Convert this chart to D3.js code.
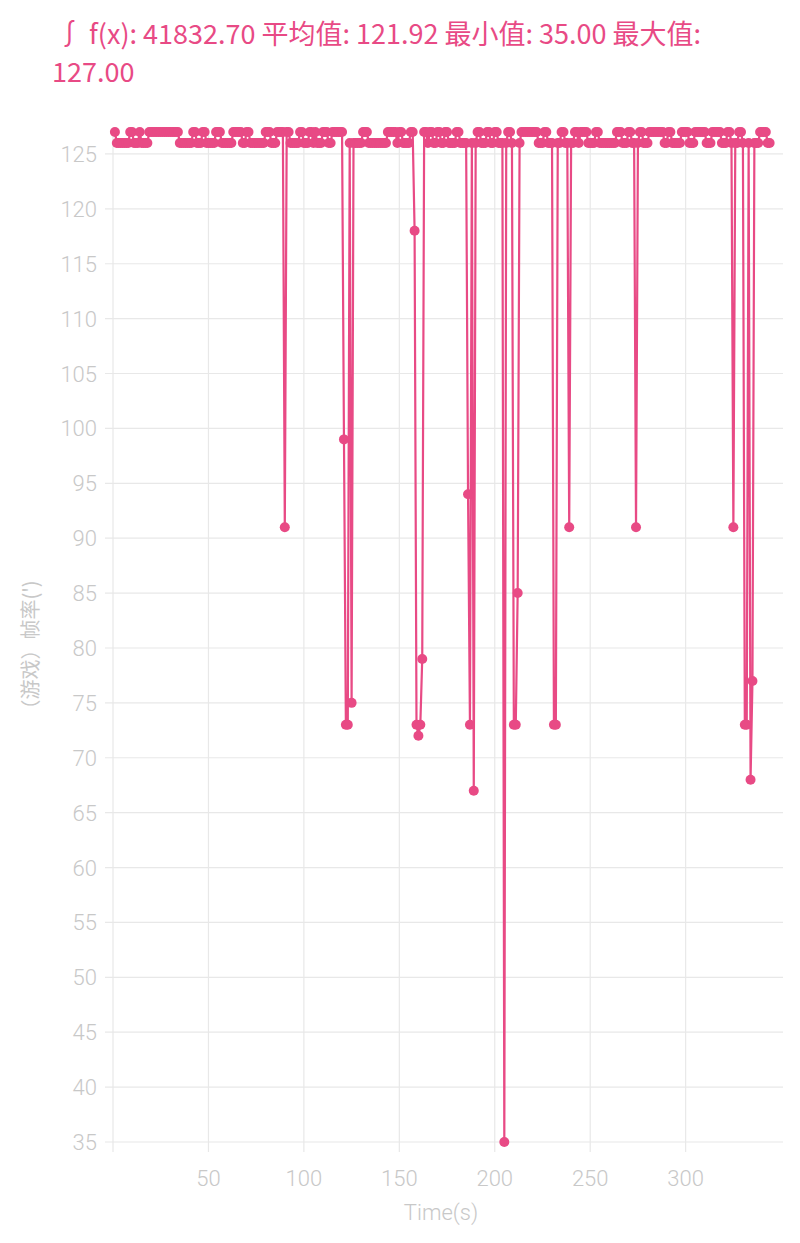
<!DOCTYPE html>
<html>
<head>
<meta charset="utf-8">
<script src="https://cdn.jsdelivr.net/npm/d3@7"></script>
<style>
  body { margin: 0; background: #fff; font-family: "Noto Sans CJK SC", "Noto Sans", sans-serif; }
</style>
</head>
<body>
<script>
// 数据
var titleLines = ["∫ f(x): 41832.70 平均值: 121.92 最小值: 35.00 最大值:", "127.00"];
var yTicks = [35, 40, 45, 50, 55, 60, 65, 70, 75, 80, 85, 90, 95, 100, 105, 110, 115, 120, 125];
var xTicks = [50, 100, 150, 200, 250, 300];
var lastSecond = 344;
// 127 的秒数 (其他默认 126)
var high127 = [1, 9, 10, 14, 19, 20, 21, 22, 23, 24, 25, 26, 27, 28, 29, 30, 31, 32, 33, 34, 42, 43, 47, 48, 54, 55, 56, 63, 64, 65, 66, 67, 70, 71, 80, 81, 82, 86, 87, 88, 89, 91, 92,
  98, 99, 103, 104, 106, 110, 111, 112, 115, 116, 117, 118, 119, 120, 131, 132, 133, 144, 145, 146, 147, 148, 150, 151, 156, 157,
  163, 164, 166, 167, 170, 171, 174, 175, 180, 181, 191, 192, 196, 197, 200, 201, 207, 208, 214, 215, 216, 217, 218, 219, 220, 221, 222,
  226, 227, 235, 236, 242, 243, 245, 246, 247, 248, 253, 254, 264, 265, 266, 270, 271, 276, 277, 281, 282, 283, 284, 285, 286, 287, 288,
  291, 292, 298, 299, 300, 301, 305, 306, 307, 308, 309, 310, 314, 315, 316, 317, 318, 322, 323, 328, 329, 339, 340, 341, 342];
// 掉帧点 [秒, 帧率]
var dips = [[90, 91], [121, 99], [122, 73], [123, 73], [125, 75],
  [158, 118], [159, 73], [160, 72], [161, 73], [162, 79],
  [186, 94], [187, 73], [189, 67], [205, 35],
  [210, 73], [211, 73], [212, 85], [231, 73], [232, 73], [239, 91],
  [274, 91], [325, 91], [331, 73], [332, 73], [334, 68], [335, 77]];

var data = [];
for (var s = 1; s <= lastSecond; s++) {
  data.push({ t: s, v: high127.indexOf(s) >= 0 ? 127 : 126 });
}
dips.forEach(function (d) {
  var p = data.find(function (e) { return e.t === d[0]; });
  p.v = d[1];
});

var width = 800, height = 1243;
var pink = "#e84a85", grid = "#e8e8e8", tickColor = "#c8c8c8";

var x = d3.scaleLinear().domain([0, 351]).range([113, 783]);
var y = d3.scaleLinear().domain([35, 127]).range([1142, 132]);

var svg = d3.select("body").append("svg").attr("width", width).attr("height", height);

svg.selectAll("text.title").data(titleLines).enter().append("text")
  .attr("class", "title")
  .attr("x", function (d, i) { return i === 0 ? 56 : 52; })
  .attr("y", function (d, i) { return 44 + i * 38; })
  .attr("fill", pink)
  .attr("font-size", 27)
  .text(function (d) { return d; });

// y 网格
svg.append("g").selectAll("line").data(yTicks).enter().append("line")
  .attr("x1", 105).attr("x2", 783)
  .attr("y1", function (d) { return y(d); }).attr("y2", function (d) { return y(d); })
  .attr("stroke", grid).attr("stroke-width", 1.2);
svg.append("g").selectAll("text").data(yTicks).enter().append("text")
  .attr("x", 97).attr("y", function (d) { return y(d) + 8; })
  .attr("text-anchor", "end").attr("fill", tickColor).attr("font-size", 22)
  .attr("font-family", "Roboto, sans-serif").attr("font-weight", 300)
  .text(function (d) { return d; });

// x 网格
svg.append("g").selectAll("line").data([0].concat(xTicks)).enter().append("line")
  .attr("x1", function (d) { return x(d); }).attr("x2", function (d) { return x(d); })
  .attr("y1", 128).attr("y2", 1152)
  .attr("stroke", grid).attr("stroke-width", 1.2);
svg.append("g").selectAll("text").data(xTicks).enter().append("text")
  .attr("x", function (d) { return x(d); }).attr("y", 1186)
  .attr("text-anchor", "middle").attr("fill", tickColor).attr("font-size", 22)
  .attr("font-family", "Roboto, sans-serif").attr("font-weight", 300)
  .text(function (d) { return d; });

svg.append("text").attr("x", 441).attr("y", 1220).attr("text-anchor", "middle")
  .attr("fill", tickColor).attr("font-size", 22).attr("font-family", "Roboto, sans-serif")
  .attr("font-weight", 300)
  .text("Time(s)");
svg.append("text").attr("transform", "translate(38,650) rotate(-90)")
  .attr("text-anchor", "middle").attr("fill", tickColor).attr("font-size", 20)
  .text("（游戏）帧率(')");

var line = d3.line().x(function (d) { return x(d.t); }).y(function (d) { return y(d.v); });
svg.append("path").datum(data).attr("d", line)
  .attr("fill", "none").attr("stroke", pink).attr("stroke-width", 2.2);
svg.append("g").selectAll("circle").data(data).enter().append("circle")
  .attr("cx", function (d) { return x(d.t); }).attr("cy", function (d) { return y(d.v); })
  .attr("r", 5).attr("fill", pink);
</script>
</body>
</html>
